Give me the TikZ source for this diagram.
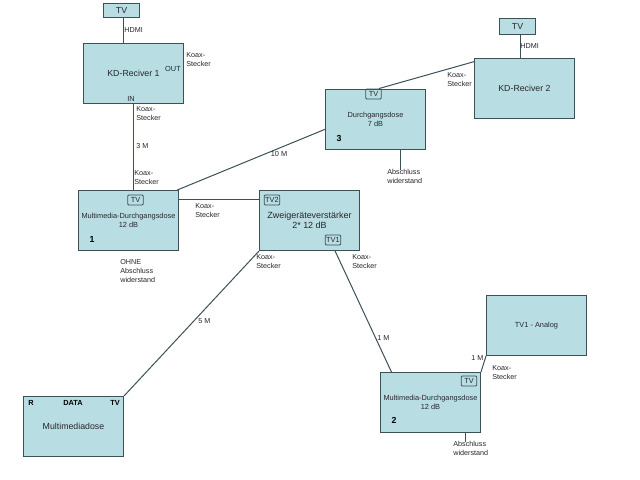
\documentclass[tikz,border=0pt]{standalone}
\usepackage{fontspec}
\setmainfont{Liberation Sans}
\definecolor{boxfill}{HTML}{B8DEE3}
\definecolor{boxline}{HTML}{3C5058}
\definecolor{txtcol}{HTML}{26262C}

\begin{document}
\begin{tikzpicture}[x=0.02cm, y=-0.02cm,
        bigbox/.style={rectangle, draw=boxline, fill=boxfill, line width=0.57pt, inner sep=0pt, minimum width=2cm, minimum height=1.2cm, align=center, text=txtcol},
        tvbox/.style={rectangle, draw=boxline, fill=boxfill, line width=0.57pt, inner sep=0pt, minimum width=0.72cm, minimum height=0.3cm, text=txtcol, font=\fontsize{5}{6}\selectfont},
        portbox/.style={rectangle, draw=boxline, rounded corners=0.6pt, line width=0.5pt, inner sep=0pt, minimum width=0.31cm, minimum height=0.2cm, text=txtcol, font=\fontsize{4.2}{5}\selectfont},
        smalltxt/.style={font=\fontsize{4.2}{5.1}\selectfont, text=txtcol, inner sep=0pt, align=center},
        lbl/.style={font=\fontsize{4.1}{5.1}\selectfont, text=txtcol, inner sep=0pt, anchor=west, align=left},
        num/.style={font=\fontsize{5}{6}\selectfont\bfseries, text=black, inner sep=0pt},
        link/.style={draw=boxline, line width=0.57pt}]
        \useasboundingbox (0,0) rectangle (640,480);

        % Draw nodes
        \node[tvbox, minimum height=0.28cm] (tvA) at (121.5,10.5) {TV};
        \node[tvbox, minimum height=0.32cm] (tvB) at (517.5,26.5) {TV};
        \node[bigbox, font=\fontsize{5}{6}\selectfont] (rec1) at (133.5,73.5) {KD-Reciver 1};
        \node[bigbox, font=\fontsize{5}{6}\selectfont] (rec2) at (524.5,88.5) {KD-Reciver 2};
        \node[bigbox, font=\fontsize{4.2}{5.1}\selectfont] (dose3) at (375.5,119.5) {Durchgangsdose\\7 dB};
        \node[bigbox, font=\fontsize{4.2}{5.1}\selectfont] (dose1) at (128.5,220.5) {Multimedia-Durchgangsdose\\12 dB};
        \node[bigbox, font=\fontsize{5.1}{5.9}\selectfont] (amp) at (309.5,220.5) {Zweigeräteverstärker\\2* 12 dB};
        \node[bigbox, font=\fontsize{4.2}{5.1}\selectfont] (analog) at (536.5,325.5) {TV1 - Analog};
        \node[bigbox, font=\fontsize{4.2}{5.1}\selectfont] (dose2) at (430.5,402.5) {Multimedia-Durchgangsdose\\12 dB};
        \node[bigbox, font=\fontsize{5}{6}\selectfont] (mmd) at (73.5,426.5) {Multimediadose};

        % Ports
        \node[portbox] (port3) at (373.5,94) {TV};
        \node[portbox] (port1) at (135.5,200) {TV};
        \node[portbox] (ampB) at (272,200) {TV2};
        \node[portbox] (ampA) at (333,240) {TV1};
        \node[portbox] (port2) at (469,381) {TV};

        % Free line ends
        \coordinate (end3) at (400,170);
        \coordinate (end2) at (466,442);

        % Draw connections
        \draw[link] (tvA.-74) -- (tvA.-74 |- rec1.north);
        \draw[link] (tvB.-69.4) -- (tvB.-69.4 |- rec2.north);
        \draw[link] (rec1.south) -- (rec1.south |- dose1.north);
        \draw[link] (port3.45) -- (rec2.152);
        \draw[link] (dose1.32.8) -- (dose3.191.2);
        \draw[link] (dose1.23.6) -- (dose1.23.6 -| amp.west);
        \draw[link] (amp.south west) -- (mmd.north east);
        \draw[link] (amp.310.4) -- (dose2.142.8);
        \draw[link] (dose2.north east) -- (analog.south west);
        \draw[link] (dose3.-51.5) -- (dose3.-51.5 |- end3);
        \draw[link] (dose2.-41.5) -- (dose2.-41.5 |- end2);

        % Labels
        \node[lbl] (hdmiA) at (124,30) {HDMI};
        \node[lbl] (hdmiB) at (520,46) {HDMI};
        \node[lbl] (koax1) at (186,59.5) {Koax-\\Stecker};
        \node[smalltxt] (out) at (173,69) {OUT};
        \node[smalltxt] (in) at (131,99) {IN};
        \node[lbl] (koax2) at (136,114) {Koax-\\Stecker};
        \node[lbl] (len3) at (136,146) {3 M};
        \node[lbl] (koax3) at (134,177.5) {Koax-\\Stecker};
        \node[smalltxt] (len10) at (279,154) {10 M};
        \node[lbl] (koax4) at (447,80) {Koax-\\Stecker};
        \node[lbl] (ende3) at (387,176) {Abschluss\\widerstand};
        \node[lbl] (koax5) at (195,211) {Koax-\\Stecker};
        \node[lbl] (koax6) at (256,262) {Koax-\\Stecker};
        \node[lbl] (koax7) at (352,262) {Koax-\\Stecker};
        \node[lbl] (ohne) at (120,271) {OHNE\\Abschluss\\widerstand};
        \node[lbl] (len5) at (198,321) {5 M};
        \node[lbl] (len1a) at (377,338) {1 M};
        \node[lbl] (len1b) at (471,358) {1 M};
        \node[lbl] (koax8) at (492,373) {Koax-\\Stecker};
        \node[lbl] (ende2) at (453,448) {Abschluss\\widerstand};

        % Numbers
        \node[num] (num1) at (92,239) {1};
        \node[num] (num2) at (394,420) {2};
        \node[num] (num3) at (339,138) {3};
        \node[num, font=\fontsize{4.2}{5}\selectfont\bfseries] (mmdR) at (31,403) {R};
        \node[num, font=\fontsize{4.2}{5}\selectfont\bfseries] (mmdData) at (73,403) {DATA};
        \node[num, font=\fontsize{4.2}{5}\selectfont\bfseries] (mmdTV) at (115,403) {TV};
\end{tikzpicture}
\end{document}
